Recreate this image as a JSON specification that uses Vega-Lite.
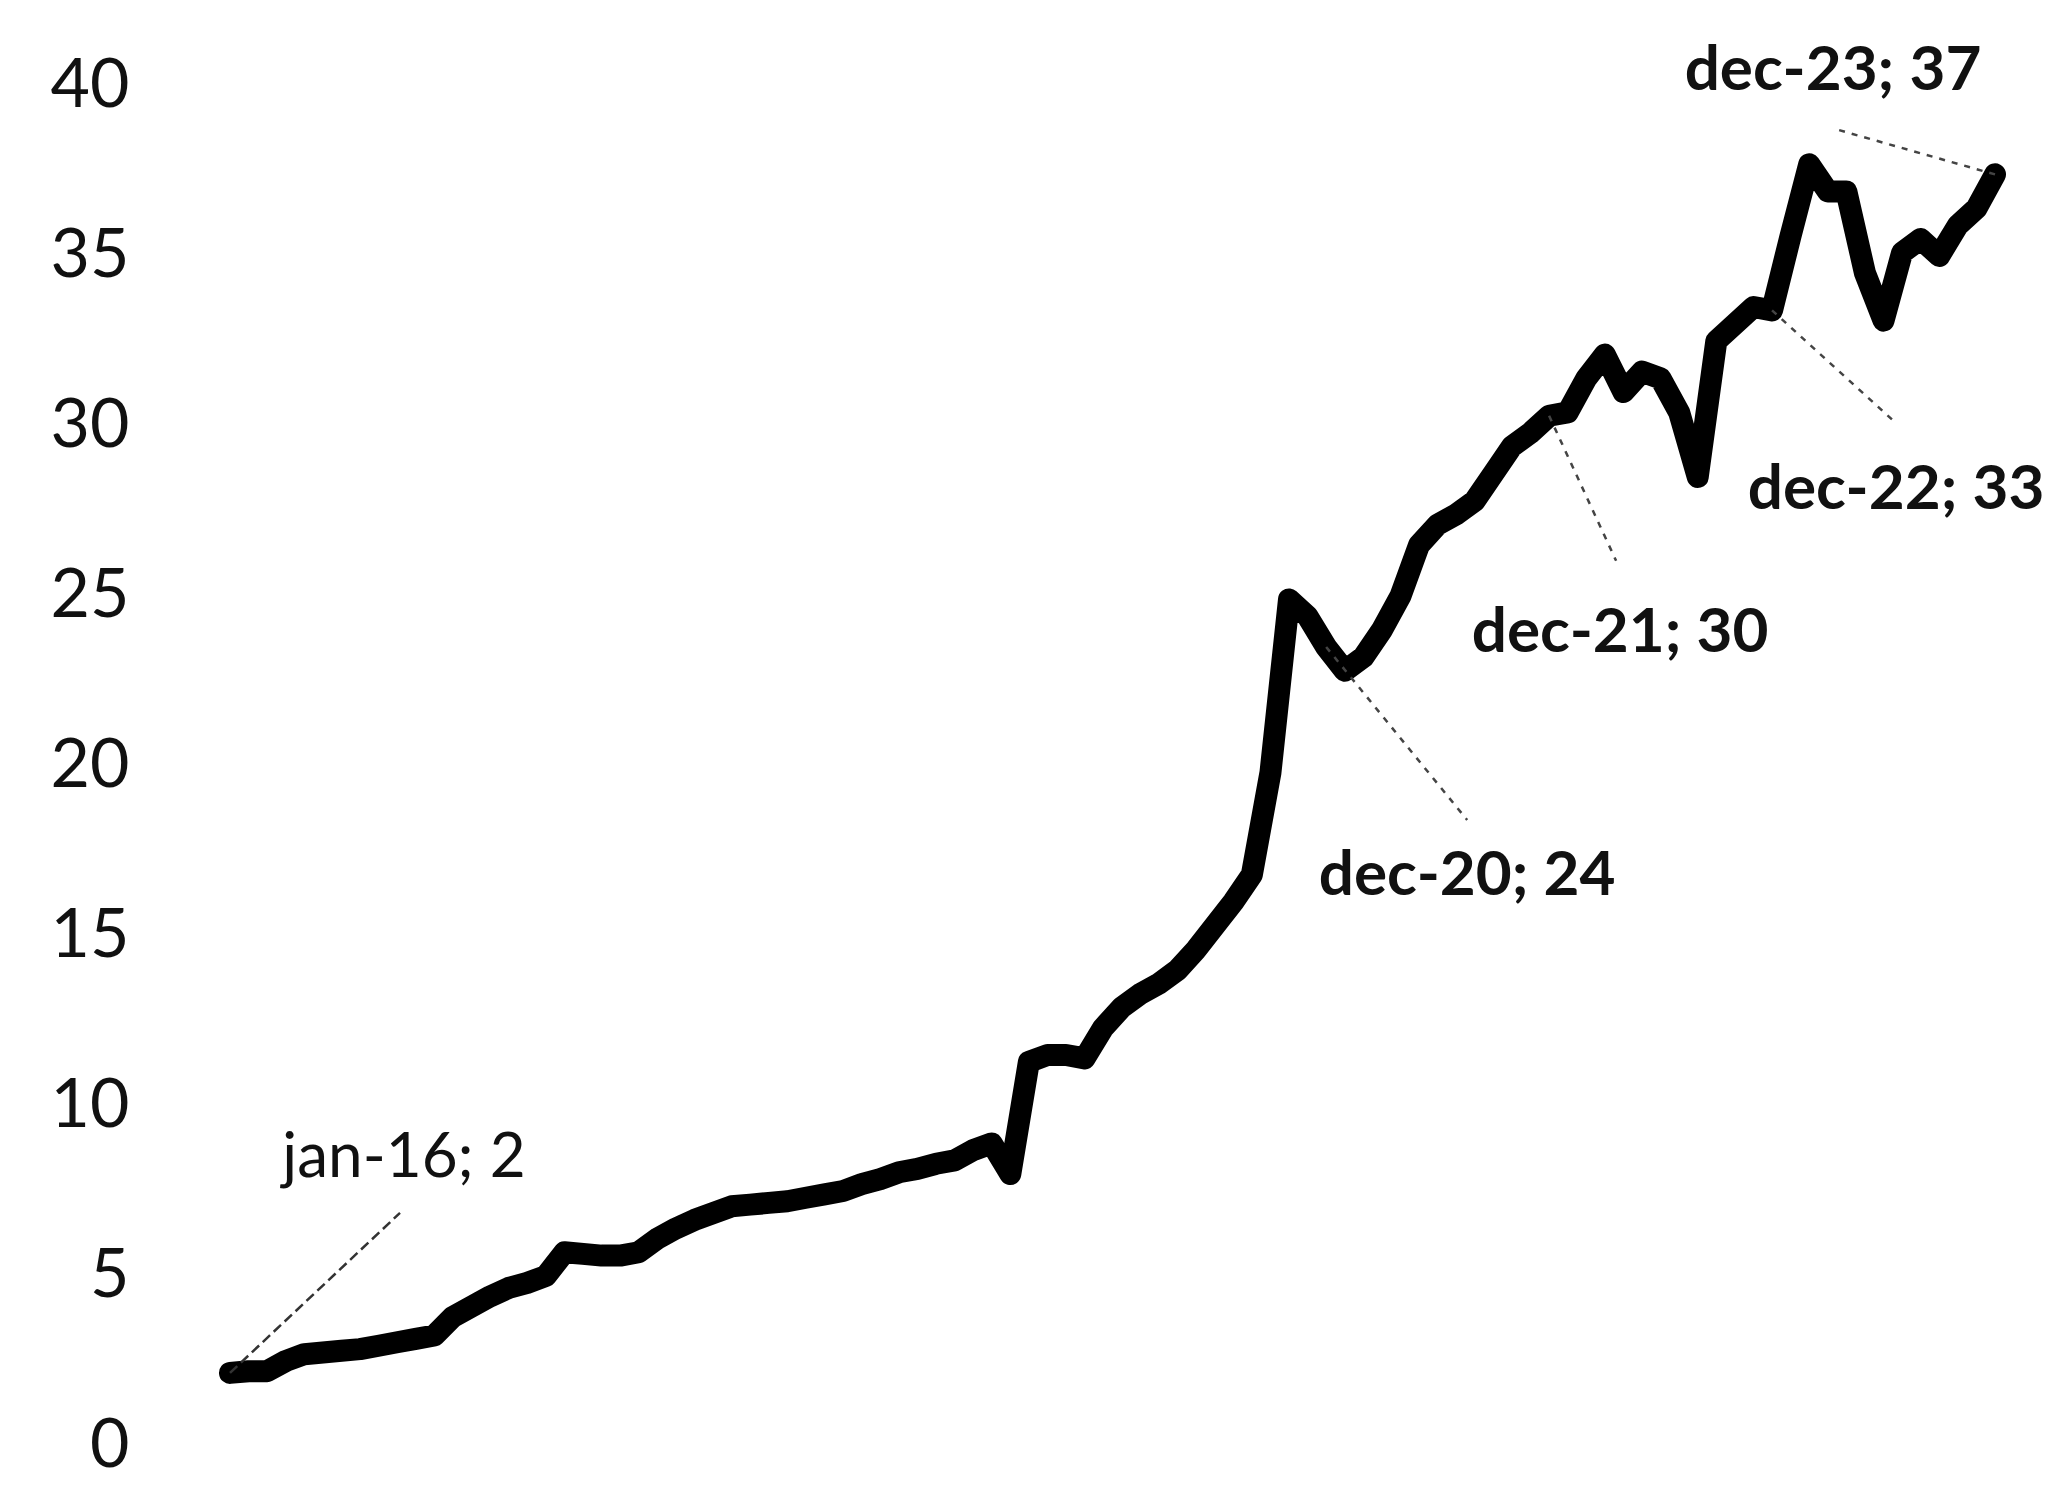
{
  "$schema": "https://vega.github.io/schema/vega-lite/v6.json",
  "autosize": {"type": "none"},
  "padding": {"left": 230, "top": 86, "right": 62, "bottom": 41},
  "width": 1765,
  "height": 1360,
  "background": "white",
  "config": {
    "view": {"stroke": null},
    "axis": {"domain": false, "ticks": false, "grid": false}
  },
  "data": {
    "values": [
      {"month": "jan-16", "value": 2.15, "label": "jan-16; 2"},
      {"month": "feb-16", "value": 2.2},
      {"month": "mar-16", "value": 2.2},
      {"month": "apr-16", "value": 2.5},
      {"month": "maj-16", "value": 2.7},
      {"month": "jun-16", "value": 2.75},
      {"month": "jul-16", "value": 2.8},
      {"month": "aug-16", "value": 2.85},
      {"month": "sep-16", "value": 2.95},
      {"month": "okt-16", "value": 3.05},
      {"month": "nov-16", "value": 3.15},
      {"month": "dec-16", "value": 3.25},
      {"month": "jan-17", "value": 3.8},
      {"month": "feb-17", "value": 4.1},
      {"month": "mar-17", "value": 4.4},
      {"month": "apr-17", "value": 4.65},
      {"month": "maj-17", "value": 4.8},
      {"month": "jun-17", "value": 5.0},
      {"month": "jul-17", "value": 5.7},
      {"month": "aug-17", "value": 5.65},
      {"month": "sep-17", "value": 5.6},
      {"month": "okt-17", "value": 5.6},
      {"month": "nov-17", "value": 5.7},
      {"month": "dec-17", "value": 6.1},
      {"month": "jan-18", "value": 6.4},
      {"month": "feb-18", "value": 6.65},
      {"month": "mar-18", "value": 6.85},
      {"month": "apr-18", "value": 7.05},
      {"month": "maj-18", "value": 7.1},
      {"month": "jun-18", "value": 7.15},
      {"month": "jul-18", "value": 7.2},
      {"month": "aug-18", "value": 7.3},
      {"month": "sep-18", "value": 7.4},
      {"month": "okt-18", "value": 7.5},
      {"month": "nov-18", "value": 7.7},
      {"month": "dec-18", "value": 7.85},
      {"month": "jan-19", "value": 8.05},
      {"month": "feb-19", "value": 8.15},
      {"month": "mar-19", "value": 8.3},
      {"month": "apr-19", "value": 8.4},
      {"month": "maj-19", "value": 8.7},
      {"month": "jun-19", "value": 8.9},
      {"month": "jul-19", "value": 8.0},
      {"month": "aug-19", "value": 11.3},
      {"month": "sep-19", "value": 11.5},
      {"month": "okt-19", "value": 11.5},
      {"month": "nov-19", "value": 11.4},
      {"month": "dec-19", "value": 12.3},
      {"month": "jan-20", "value": 12.9},
      {"month": "feb-20", "value": 13.3},
      {"month": "mar-20", "value": 13.6},
      {"month": "apr-20", "value": 14.0},
      {"month": "maj-20", "value": 14.6},
      {"month": "jun-20", "value": 15.3},
      {"month": "jul-20", "value": 16.0},
      {"month": "aug-20", "value": 16.8},
      {"month": "sep-20", "value": 19.8},
      {"month": "okt-20", "value": 24.9},
      {"month": "nov-20", "value": 24.4},
      {"month": "dec-20", "value": 23.5, "label": "dec-20; 24"},
      {"month": "jan-21", "value": 22.8},
      {"month": "feb-21", "value": 23.2},
      {"month": "mar-21", "value": 24.0},
      {"month": "apr-21", "value": 25.0},
      {"month": "maj-21", "value": 26.5},
      {"month": "jun-21", "value": 27.1},
      {"month": "jul-21", "value": 27.4},
      {"month": "aug-21", "value": 27.8},
      {"month": "sep-21", "value": 28.6},
      {"month": "okt-21", "value": 29.4},
      {"month": "nov-21", "value": 29.8},
      {"month": "dec-21", "value": 30.3, "label": "dec-21; 30"},
      {"month": "jan-22", "value": 30.4},
      {"month": "feb-22", "value": 31.4},
      {"month": "mar-22", "value": 32.1},
      {"month": "apr-22", "value": 31.0},
      {"month": "maj-22", "value": 31.6},
      {"month": "jun-22", "value": 31.4},
      {"month": "jul-22", "value": 30.4},
      {"month": "aug-22", "value": 28.5},
      {"month": "sep-22", "value": 32.5},
      {"month": "okt-22", "value": 33.0},
      {"month": "nov-22", "value": 33.5},
      {"month": "dec-22", "value": 33.4, "label": "dec-22; 33"},
      {"month": "jan-23", "value": 35.6},
      {"month": "feb-23", "value": 37.7},
      {"month": "mar-23", "value": 36.9},
      {"month": "apr-23", "value": 36.9},
      {"month": "maj-23", "value": 34.5},
      {"month": "jun-23", "value": 33.1},
      {"month": "jul-23", "value": 35.1},
      {"month": "aug-23", "value": 35.5},
      {"month": "sep-23", "value": 35.0},
      {"month": "okt-23", "value": 35.9},
      {"month": "nov-23", "value": 36.4},
      {"month": "dec-23", "value": 37.4, "label": "dec-23; 37"}
    ]
  },
  "encoding": {
    "x": {"field": "month", "type": "ordinal", "sort": null, "scale": {"type": "point", "padding": 0}, "axis": null},
    "y": {
      "field": "value", "type": "quantitative",
      "scale": {"domain": [0, 40], "nice": false, "zero": true},
      "axis": {"title": null, "values": [0, 5, 10, 15, 20, 25, 30, 35, 40], "labelFontSize": 68, "labelFont": "Lato", "labelColor": "#111111", "labelPadding": 101}
    }
  },
  "layer": [
    {"mark": {"type": "line", "color": "#000000", "strokeWidth": 22, "strokeJoin": "round", "strokeCap": "round"}},
    {
      "transform": [{"filter": "datum.label == 'jan-16; 2'"}],
      "layer": [
        {"mark": {"type": "rule", "color": "#333333", "strokeWidth": 2.5, "strokeDash": [10, 5], "x2Offset": 170, "y2Offset": -160},
         "encoding": {"x2": {"field": "month"}, "y2": {"field": "value"}}},
        {"mark": {"type": "text", "fontSize": 62, "font": "Lato", "color": "#111111", "align": "center", "baseline": "middle", "dx": 174, "dy": -215},
         "encoding": {"text": {"field": "label"}}}
      ]
    },
    {
      "transform": [{"filter": "datum.label == 'dec-20; 24'"}],
      "layer": [
        {"mark": {"type": "rule", "color": "#444444", "strokeWidth": 2.5, "strokeDash": [6, 7], "x2Offset": 141, "y2Offset": 173},
         "encoding": {"x2": {"field": "month"}, "y2": {"field": "value"}}},
        {"mark": {"type": "text", "fontSize": 62, "fontWeight": "bold", "font": "Lato", "color": "#111111", "align": "center", "baseline": "middle", "dx": 141, "dy": 229},
         "encoding": {"text": {"field": "label"}}}
      ]
    },
    {
      "transform": [{"filter": "datum.label == 'dec-21; 30'"}],
      "layer": [
        {"mark": {"type": "rule", "color": "#444444", "strokeWidth": 2.5, "strokeDash": [6, 7], "x2Offset": 67, "y2Offset": 145},
         "encoding": {"x2": {"field": "month"}, "y2": {"field": "value"}}},
        {"mark": {"type": "text", "fontSize": 62, "fontWeight": "bold", "font": "Lato", "color": "#111111", "align": "center", "baseline": "middle", "dx": 71, "dy": 217},
         "encoding": {"text": {"field": "label"}}}
      ]
    },
    {
      "transform": [{"filter": "datum.label == 'dec-22; 33'"}],
      "layer": [
        {"mark": {"type": "rule", "color": "#444444", "strokeWidth": 2.5, "strokeDash": [6, 7], "x2Offset": 121, "y2Offset": 110},
         "encoding": {"x2": {"field": "month"}, "y2": {"field": "value"}}},
        {"mark": {"type": "text", "fontSize": 62, "fontWeight": "bold", "font": "Lato", "color": "#111111", "align": "center", "baseline": "middle", "dx": 124, "dy": 180},
         "encoding": {"text": {"field": "label"}}}
      ]
    },
    {
      "transform": [{"filter": "datum.label == 'dec-23; 37'"}],
      "layer": [
        {"mark": {"type": "rule", "color": "#444444", "strokeWidth": 2.5, "strokeDash": [6, 7], "x2Offset": -162, "y2Offset": -46},
         "encoding": {"x2": {"field": "month"}, "y2": {"field": "value"}}},
        {"mark": {"type": "text", "fontSize": 62, "fontWeight": "bold", "font": "Lato", "color": "#111111", "align": "center", "baseline": "middle", "dx": -162, "dy": -103},
         "encoding": {"text": {"field": "label"}}}
      ]
    }
  ]
}
